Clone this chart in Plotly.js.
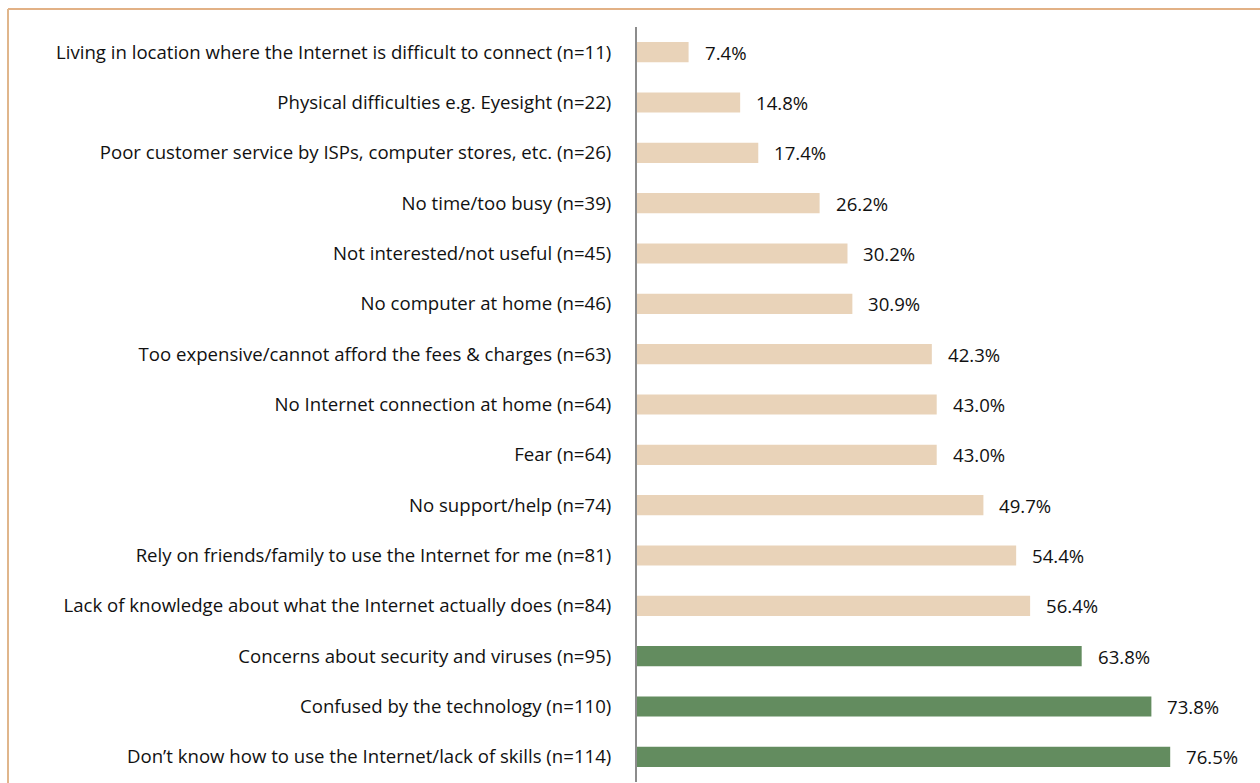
<!DOCTYPE html>
<html>
<head>
<meta charset="utf-8">
<script src="https://cdn.plot.ly/plotly-3.0.1.min.js"></script>
<style>html,body{margin:0;padding:0;background:#fff;}#chart{width:1260px;height:783px;}</style>
</head>
<body>
<div id="chart"></div>
<script>
const categories = [
  "Living in location where the Internet is difficult to connect (n=11)",
  "Physical difficulties e.g. Eyesight (n=22)",
  "Poor customer service by ISPs, computer stores, etc. (n=26)",
  "No time/too busy (n=39)",
  "Not interested/not useful (n=45)",
  "No computer at home (n=46)",
  "Too expensive/cannot afford the fees & charges (n=63)",
  "No Internet connection at home (n=64)",
  "Fear (n=64)",
  "No support/help (n=74)",
  "Rely on friends/family to use the Internet for me (n=81)",
  "Lack of knowledge about what the Internet actually does (n=84)",
  "Concerns about security and viruses (n=95)",
  "Confused by the technology (n=110)",
  "Don\u2019t know how to use the Internet/lack of skills (n=114)"
];
const values = [7.4, 14.8, 17.4, 26.2, 30.2, 30.9, 42.3, 43.0, 43.0, 49.7, 54.4, 56.4, 63.8, 73.8, 76.5];
const highlighted = [false,false,false,false,false,false,false,false,false,false,false,false,true,true,true];

const BEIGE = "#E9D3B9", GREEN = "#638C5F";
const FONT = {family: "'Open Sans', sans-serif", size: 18.6, color: "#111"};
const W = 1260, H = 783, ML = 637, MR = 0, MT = 27, MB = 1;
const pw = W - ML - MR, ph = H - MT - MB;
const px = x => (x - ML) / pw;
const py = y => 1 - (y - MT) / ph;

const trace = {
  type: "bar",
  orientation: "h",
  x: values,
  y: categories,
  marker: {color: highlighted.map(h => h ? GREEN : BEIGE)},
  width: 0.4,
  hoverinfo: "skip"
};

const annotations = values.map((v, i) => ({
  x: v, y: categories[i], xref: "x", yref: "y",
  text: v.toFixed(1) + "%", showarrow: false,
  xanchor: "left", yanchor: "middle", xshift: 14,
  font: FONT
}));

const layout = {
  width: W, height: H,
  margin: {l: ML, r: MR, t: MT, b: MB, pad: 0},
  paper_bgcolor: "#fff", plot_bgcolor: "#fff",
  showlegend: false,
  font: FONT,
  xaxis: {range: [0, pw / 6.97], visible: false, fixedrange: true},
  yaxis: {
    type: "category", autorange: "reversed",
    showline: true, linecolor: "#8C8C8C", linewidth: 2,
    showgrid: false, zeroline: false, ticks: "",
    ticklabelstandoff: 20, tickfont: FONT, fixedrange: true
  },
  annotations: annotations,
  shapes: [
    {type: "line", xref: "paper", yref: "paper", x0: px(8), x1: px(1262), y0: py(9), y1: py(9),
     line: {color: "#D8975E", width: 1.5}},
    {type: "line", xref: "paper", yref: "paper", x0: px(8), x1: px(8), y0: py(9), y1: py(790),
     line: {color: "#E0B68C", width: 2}}
  ]
};

Plotly.newPlot("chart", [trace], layout, {staticPlot: true, displayModeBar: false});
</script>
</body>
</html>
